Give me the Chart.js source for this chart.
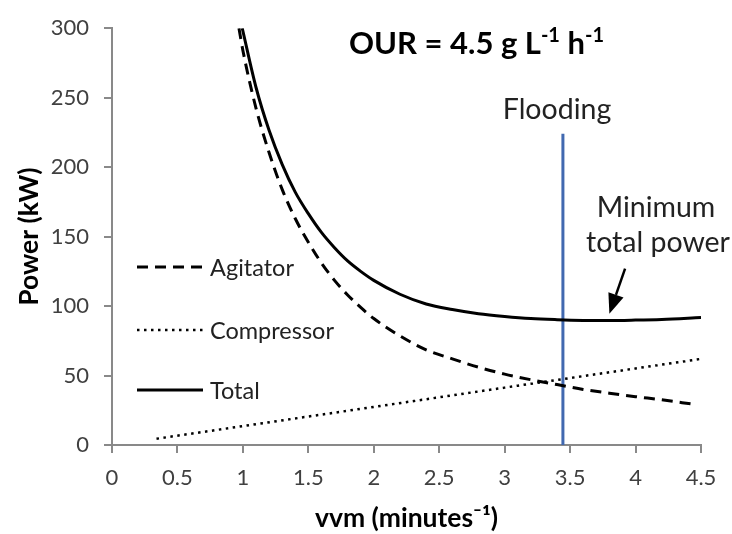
<!DOCTYPE html>
<html>
<head>
<meta charset="utf-8">
<script src="https://cdn.jsdelivr.net/npm/chart.js@4"></script>
<style>
  html, body { margin: 0; padding: 0; background: #fff; }
  #wrap { width: 732px; height: 534px; }
</style>
</head>
<body>
<div id="wrap"><canvas id="chart" width="732" height="534"></canvas></div>
<script>
// values (x = vvm, y = kW)
const agitatorX = [0.97, 1.0, 1.1, 1.2, 1.3, 1.4, 1.5, 1.6, 1.7, 1.8, 1.9, 2.0, 2.2, 2.4, 2.6, 2.8, 3.0, 3.2, 3.4, 3.6, 3.8, 4.0, 4.2, 4.43];
const agitatorY = [300, 284, 242.5, 210.5, 184, 163, 146, 131, 118.5, 108, 99, 91, 78.5, 68.5, 62, 56, 51, 47, 43.5, 40, 37.3, 34.8, 32.5, 29.5];

const compressorX = [0.34, 1.0, 2.0, 3.0, 4.0, 4.5];
const compressorY = [4.5, 13.6, 27.4, 41.3, 55.1, 62];

const totalX = [0.995, 1.1, 1.2, 1.3, 1.4, 1.5, 1.6, 1.7, 1.8, 1.9, 2.0, 2.2, 2.4, 2.6, 2.8, 3.0, 3.2, 3.4, 3.6, 3.8, 4.0, 4.2, 4.5];
const totalY = [300, 257.5, 226.5, 202, 182, 166.5, 153, 142, 132.5, 125, 118.5, 108.5, 101.5, 97.5, 94.5, 92.5, 91, 90.2, 89.7, 89.6, 89.9, 90.4, 91.7];

const floodingX = [3.445, 3.445];
const floodingY = [0, 224];

const xTicks = [0, 0.5, 1, 1.5, 2, 2.5, 3, 3.5, 4, 4.5];
const xTickLabels = ['0', '0.5', '1', '1.5', '2', '2.5', '3', '3.5', '4', '4.5'];
const yTicks = [0, 50, 100, 150, 200, 250, 300];

// arrow for "Minimum total power" (tail -> tip)
const arrowFrom = [3.92, 127];
const arrowTo = [3.80, 94.5];

const FONT = 'Lato, "Open Sans", sans-serif';
const AXIS = '#898989';

function pts(xs, ys) {
  return xs.map((x, i) => ({ x: x, y: ys[i] }));
}

const styles = {
  agitator: { borderColor: '#000', borderWidth: 3, borderDash: [11, 7] },
  compressor: { borderColor: '#000', borderWidth: 2.5, borderDash: [2.5, 4.5] },
  total: { borderColor: '#000', borderWidth: 3, borderDash: [] }
};

// text, arrow and legend drawn on top of the plot
const overlay = {
  id: 'overlay',
  afterDatasetsDraw(chart) {
    const ctx = chart.ctx;
    const xs = chart.scales.x, ys = chart.scales.y;
    ctx.save();

    // title with superscripts
    let x = 349;
    const base = 54;
    const parts = [['OUR = 4.5 g L', false], ['-1', true], [' h', false], ['-1', true]];
    ctx.fillStyle = '#000';
    ctx.textBaseline = 'alphabetic';
    ctx.textAlign = 'left';
    parts.forEach(([t, sup]) => {
      ctx.font = 'bold ' + (sup ? 20 : 31) + 'px ' + FONT;
      ctx.fillText(t, x, sup ? base - 12 : base);
      x += ctx.measureText(t).width;
    });

    // annotations
    ctx.font = '28.5px ' + FONT;
    ctx.fillStyle = '#222';
    ctx.textAlign = 'center';
    ctx.fillText('Flooding', 557, 119);
    ctx.fillText('Minimum', 656, 217);
    ctx.fillText('total power', 658, 252);

    // arrow
    const ax0 = xs.getPixelForValue(arrowFrom[0]), ay0 = ys.getPixelForValue(arrowFrom[1]);
    const ax1 = xs.getPixelForValue(arrowTo[0]), ay1 = ys.getPixelForValue(arrowTo[1]);
    const ang = Math.atan2(ay1 - ay0, ax1 - ax0);
    const headLen = 20, headW = 8;
    const bx = ax1 - headLen * Math.cos(ang), by = ay1 - headLen * Math.sin(ang);
    ctx.strokeStyle = '#000';
    ctx.lineWidth = 2.5;
    ctx.beginPath();
    ctx.moveTo(ax0, ay0);
    ctx.lineTo(bx, by);
    ctx.stroke();
    ctx.fillStyle = '#000';
    ctx.beginPath();
    ctx.moveTo(ax1, ay1);
    ctx.lineTo(bx + headW * Math.sin(ang), by - headW * Math.cos(ang));
    ctx.lineTo(bx - headW * Math.sin(ang), by + headW * Math.cos(ang));
    ctx.closePath();
    ctx.fill();

    // legend inside plot
    const rows = [['Agitator', styles.agitator, 267], ['Compressor', styles.compressor, 330], ['Total', styles.total, 390]];
    ctx.font = '23.5px ' + FONT;
    ctx.textAlign = 'left';
    ctx.textBaseline = 'middle';
    rows.forEach(([label, st, y]) => {
      ctx.strokeStyle = st.borderColor;
      ctx.lineWidth = st.borderWidth;
      ctx.setLineDash(st.borderDash);
      ctx.beginPath();
      ctx.moveTo(137, y);
      ctx.lineTo(203, y);
      ctx.stroke();
      ctx.setLineDash([]);
      ctx.fillStyle = '#222';
      ctx.fillText(label, 210, y + 1);
    });

    ctx.restore();
  }
};

const common = { pointRadius: 0, fill: false, cubicInterpolationMode: 'monotone' };

new Chart(document.getElementById('chart'), {
  type: 'line',
  data: {
    datasets: [
      Object.assign({ label: 'Agitator', data: pts(agitatorX, agitatorY) }, common, styles.agitator),
      Object.assign({ label: 'Compressor', data: pts(compressorX, compressorY) }, common, styles.compressor),
      Object.assign({ label: 'Total', data: pts(totalX, totalY) }, common, styles.total),
      { label: 'Flooding', data: pts(floodingX, floodingY), borderColor: '#4169B0', borderWidth: 3, pointRadius: 0 }
    ]
  },
  options: {
    responsive: false,
    animation: false,
    layout: { padding: { left: 0, right: 31, top: 23, bottom: 0 } },
    plugins: { legend: { display: false }, tooltip: { enabled: false } },
    scales: {
      x: {
        type: 'linear',
        min: 0,
        max: 4.5,
        afterBuildTicks: s => { s.ticks = xTicks.map(v => ({ value: v })); },
        afterFit: s => { s.height = 89; s.paddingLeft = 0; s.paddingRight = 0; },
        ticks: {
          color: '#404040', font: { family: FONT, size: 22 }, padding: 12, maxRotation: 0,
          callback: (v, i) => xTickLabels[i]
        },
        grid: { drawOnChartArea: false, color: AXIS, lineWidth: 2, tickLength: 8 },
        border: { color: AXIS, width: 2 },
        title: { display: true, text: 'vvm (minutes\u207B\u00B9)', color: '#000', font: { family: FONT, size: 26.5, weight: 'bold' }, padding: { top: 0, bottom: 0 } }
      },
      y: {
        min: 0,
        max: 300,
        afterBuildTicks: s => { s.ticks = yTicks.map(v => ({ value: v })); },
        afterFit: s => { s.width = 112; },
        ticks: { color: '#404040', font: { family: FONT, size: 22 }, padding: 15 },
        grid: { drawOnChartArea: false, color: AXIS, lineWidth: 2, tickLength: 8 },
        border: { color: AXIS, width: 2 },
        title: { display: true, text: 'Power (kW)', color: '#000', font: { family: FONT, size: 26.5, weight: 'bold' }, padding: { top: 14, bottom: 0 } }
      }
    }
  },
  plugins: [overlay]
});
</script>
</body>
</html>
